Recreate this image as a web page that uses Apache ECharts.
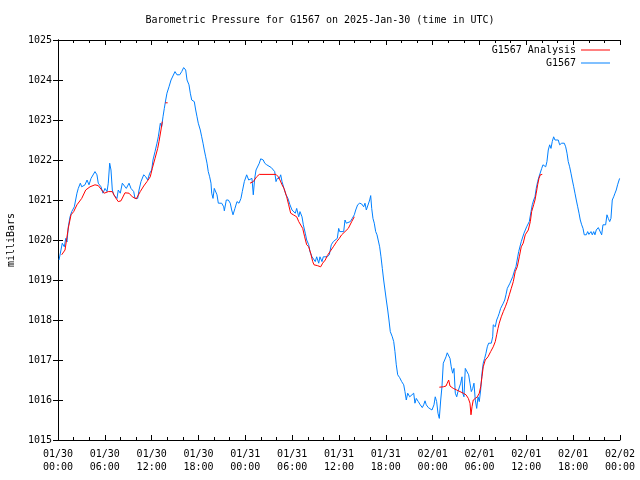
<!DOCTYPE html>
<html>
<head>
<meta charset="utf-8">
<script src="https://cdn.jsdelivr.net/npm/echarts@6/dist/echarts.min.js"></script>
<style>html,body{margin:0;padding:0;background:#fff}#c{width:640px;height:480px}</style>
</head>
<body>
<div id="c"></div>
<script>
// Hours after 2025-01-30 00:00 UTC
var blueHours = [0.13,0.38,0.55,0.81,0.99,1.15,1.32,1.54,1.76,1.92,2.09,2.27,2.43,2.60,2.86,3.04,3.27,3.46,3.72,3.97,4.23,4.48,4.74,4.99,5.16,5.51,5.76,6.02,6.28,6.44,6.62,6.79,6.96,7.14,7.39,7.56,7.72,7.98,8.24,8.49,8.75,9.10,9.35,9.70,9.86,10.21,10.38,10.63,10.98,11.24,11.49,11.75,12.00,12.17,12.43,12.68,12.85,13.11,13.28,13.45,13.62,13.80,13.96,14.22,14.48,14.73,14.99,15.24,15.59,15.85,16.10,16.36,16.53,16.78,16.95,17.13,17.46,17.64,17.81,17.97,18.23,18.41,18.58,18.74,18.92,19.09,19.25,19.43,19.60,19.69,19.86,20.02,20.20,20.37,20.54,20.97,21.23,21.31,21.56,21.82,22.07,22.25,22.42,22.67,22.93,23.19,23.44,23.61,23.87,24.17,24.43,24.60,24.85,25.02,25.20,25.37,25.62,25.79,25.97,26.30,26.48,26.74,26.99,27.33,27.58,27.76,27.93,28.09,28.35,28.53,28.70,28.95,29.21,29.46,29.72,29.98,30.14,30.40,30.58,30.84,31.00,31.26,31.43,31.68,31.86,32.12,32.28,32.54,32.71,32.96,33.14,33.40,33.56,33.82,33.99,34.24,34.50,34.76,35.01,35.27,35.52,35.78,35.96,36.09,36.34,36.60,36.77,36.94,37.19,37.45,37.70,37.96,38.14,38.39,38.65,38.91,39.16,39.33,39.50,39.75,39.93,40.06,40.19,40.35,40.52,40.70,40.87,41.03,41.21,41.38,41.55,41.72,41.89,42.06,42.24,42.40,42.57,42.83,43.01,43.17,43.34,43.52,43.77,44.03,44.29,44.45,44.62,44.80,45.06,45.31,45.57,45.73,45.90,46.16,46.41,46.67,46.85,47.02,47.18,47.44,47.66,47.91,48.17,48.33,48.51,48.68,48.85,49.03,49.19,49.36,49.54,49.71,49.87,50.05,50.22,50.38,50.56,50.73,50.90,51.08,51.24,51.41,51.59,51.76,51.85,52.01,52.18,52.36,52.61,52.78,52.95,53.13,53.29,53.46,53.64,53.81,53.97,54.15,54.32,54.48,54.66,54.83,55.00,55.17,55.34,55.51,55.69,55.76,56.02,56.20,56.37,56.53,56.71,56.88,57.05,57.23,57.39,57.56,57.74,57.90,58.07,58.25,58.51,58.67,58.84,59.02,59.19,59.35,59.53,59.70,59.86,60.04,60.21,60.38,60.60,60.76,60.94,61.11,61.27,61.45,61.62,61.79,61.97,62.13,62.30,62.48,62.64,62.81,62.99,63.16,63.32,63.50,63.67,63.84,64.09,64.27,64.53,64.86,65.04,65.21,65.37,65.55,65.72,65.89,66.07,66.23,66.40,66.58,66.75,66.91,67.09,67.26,67.42,67.68,67.86,68.02,68.28,68.45,68.63,68.79,68.96,69.22,69.47,69.65,69.82,69.98,70.16,70.33,70.50,70.68,70.84,71.01,71.19,71.36,71.52,71.69,71.95];
var bluePressure = [1019.50,1019.75,1019.92,1019.83,1020.04,1019.95,1020.33,1020.58,1020.71,1020.70,1020.83,1020.78,1021.17,1021.29,1021.42,1021.33,1021.35,1021.38,1021.50,1021.38,1021.54,1021.58,1021.71,1021.63,1021.42,1021.33,1021.17,1021.29,1021.21,1021.42,1021.92,1021.75,1021.25,1021.13,1021.17,1021.04,1021.25,1021.17,1021.42,1021.42,1021.29,1021.42,1021.29,1021.21,1021.04,1021.04,1021.25,1021.46,1021.63,1021.58,1021.50,1021.67,1021.75,1022.00,1022.21,1022.42,1022.58,1022.92,1022.83,1023.08,1023.29,1023.50,1023.67,1023.83,1024.00,1024.04,1024.21,1024.13,1024.13,1024.21,1024.31,1024.25,1024.00,1023.88,1023.67,1023.50,1023.46,1023.25,1023.08,1022.92,1022.75,1022.58,1022.42,1022.25,1022.08,1021.92,1021.71,1021.58,1021.42,1021.17,1021.04,1021.29,1021.25,1021.13,1020.92,1020.92,1020.83,1020.73,1021.00,1021.00,1020.92,1020.75,1020.63,1020.79,1020.96,1020.92,1021.04,1021.21,1021.46,1021.63,1021.50,1021.46,1021.54,1021.13,1021.54,1021.75,1021.79,1021.92,1022.03,1022.00,1021.92,1021.88,1021.83,1021.81,1021.79,1021.71,1021.46,1021.54,1021.54,1021.63,1021.46,1021.29,1021.13,1021.04,1020.88,1020.75,1020.79,1020.67,1020.79,1020.58,1020.71,1020.58,1020.38,1020.17,1020.00,1019.88,1019.71,1019.58,1019.54,1019.46,1019.58,1019.42,1019.58,1019.46,1019.58,1019.54,1019.58,1019.63,1019.88,1019.96,1019.96,1020.04,1020.29,1020.21,1020.21,1020.21,1020.50,1020.42,1020.38,1020.46,1020.54,1020.63,1020.75,1020.88,1020.92,1020.90,1020.83,1020.92,1020.75,1020.75,1021.00,1021.11,1020.79,1020.54,1020.42,1020.21,1020.13,1020.15,1019.83,1019.58,1019.29,1019.00,1018.75,1018.50,1018.25,1018.00,1017.71,1017.58,1017.46,1017.21,1016.88,1016.63,1016.56,1016.46,1016.38,1016.21,1016.00,1016.17,1016.08,1016.04,1016.17,1015.92,1016.04,1015.96,1015.88,1015.81,1015.88,1015.98,1015.88,1015.81,1015.79,1015.75,1015.88,1016.08,1015.96,1015.67,1015.54,1016.00,1016.33,1016.92,1017.00,1017.08,1017.18,1017.18,1017.04,1016.83,1016.67,1016.79,1016.17,1016.08,1016.21,1016.17,1016.42,1016.58,1016.17,1016.08,1016.79,1016.75,1016.63,1016.42,1016.21,1016.29,1016.42,1016.00,1015.79,1016.08,1015.96,1016.25,1016.67,1016.92,1017.04,1017.17,1017.33,1017.42,1017.46,1017.42,1017.58,1017.88,1017.83,1018.00,1018.08,1018.17,1018.29,1018.25,1018.42,1018.50,1018.63,1018.79,1018.83,1018.92,1019.00,1019.08,1019.25,1019.33,1019.38,1019.71,1019.75,1019.96,1020.00,1020.17,1020.21,1020.33,1020.38,1020.46,1020.71,1020.88,1021.00,1021.08,1021.29,1021.46,1021.58,1021.63,1021.79,1021.88,1021.92,1021.83,1021.96,1022.25,1022.38,1022.29,1022.46,1022.58,1022.50,1022.46,1022.50,1022.38,1022.42,1022.42,1022.33,1022.17,1021.96,1021.83,1021.67,1021.50,1021.33,1021.17,1021.00,1020.83,1020.67,1020.50,1020.38,1020.29,1020.13,1020.13,1020.21,1020.14,1020.21,1020.13,1020.21,1020.13,1020.25,1020.31,1020.29,1020.13,1020.38,1020.42,1020.38,1020.63,1020.54,1020.46,1020.54,1021.00,1021.08,1021.17,1021.25,1021.38,1021.54];

// Analysis series (null = gap)
var redHours = [0.47,0.90,1.32,1.67,2.01,2.43,3.04,3.55,4.10,4.74,5.16,5.60,5.93,6.44,6.96,7.30,7.72,8.07,8.58,9.10,9.52,10.03,10.54,10.98,11.40,11.82,12.08,12.43,12.77,12.94,13.19,13.36,
  13.55,13.75,14.05,
  19.0,24.60,25.02,25.45,25.79,27.93,28.22,28.44,28.70,28.95,29.30,29.55,29.81,30.14,30.58,30.84,31.09,31.35,31.60,31.86,32.12,32.37,32.63,32.80,33.22,33.65,33.91,34.24,34.50,34.85,35.27,35.70,36.04,36.34,36.77,37.19,37.63,37.96,
  43.0,48.85,49.36,49.71,49.87,50.05,50.22,50.64,51.08,51.50,51.92,52.27,52.57,52.78,52.91,53.04,53.20,53.46,53.72,53.97,54.15,54.32,54.48,54.74,55.09,55.43,55.76,56.02,56.20,56.37,56.53,56.79,57.05,57.31,57.56,57.82,58.07,58.33,58.58,58.84,59.10,59.35,59.60,59.86,60.25,60.51,60.68,60.94,61.11,61.27,61.45,61.62,61.79,62.04];
var redPressure = [1019.63,1019.75,1020.30,1020.63,1020.71,1020.88,1021.04,1021.25,1021.33,1021.38,1021.36,1021.25,1021.17,1021.21,1021.21,1021.08,1020.96,1020.98,1021.18,1021.17,1021.08,1021.03,1021.21,1021.35,1021.46,1021.58,1021.79,1022.04,1022.29,1022.46,1022.75,1022.96,
  null,1023.43,1023.43,
  null,1021.42,1021.46,1021.58,1021.64,1021.64,1021.58,1021.50,1021.38,1021.29,1021.08,1020.88,1020.67,1020.63,1020.58,1020.46,1020.45,1020.29,1020.08,1019.88,1019.83,1019.67,1019.46,1019.38,1019.36,1019.33,1019.42,1019.50,1019.61,1019.71,1019.83,1019.96,1020.04,1020.13,1020.21,1020.29,1020.46,1020.58,
  null,1016.32,1016.33,1016.35,1016.42,1016.50,1016.35,1016.29,1016.25,1016.21,1016.17,1016.13,1016.04,1015.92,1015.63,1015.83,1016.00,1016.04,1016.08,1016.17,1016.33,1016.58,1016.83,1017.00,1017.08,1017.21,1017.33,1017.46,1017.63,1017.79,1017.92,1018.08,1018.21,1018.33,1018.46,1018.63,1018.79,1018.96,1019.21,1019.33,1019.58,1019.83,1019.92,1020.13,1020.25,1020.46,1020.71,1020.88,1021.00,1021.17,1021.38,1021.54,1021.63,1021.64];

var titleText = 'Barometric Pressure for G1567 on 2025-Jan-30 (time in UTC)';
var seriesNames = ['G1567 Analysis', 'G1567'];
var yAxisName = 'milliBars';

function zip(a, b) { return a.map(function (h, i) { return [h, b[i]]; }); }
function pad(n) { return (n < 10 ? '0' : '') + n; }
var base = Date.UTC(2025, 0, 30);
function fmtHour(h) {
  var d = new Date(base + h * 3600000);
  return pad(d.getUTCMonth() + 1) + '/' + pad(d.getUTCDate()) + '\n' + pad(d.getUTCHours()) + ':' + pad(d.getUTCMinutes());
}

var FONT = 'DejaVu Sans Mono';
var axisCommon = {
  axisLine: { show: true, lineStyle: { color: '#000', width: 1 } },
  splitLine: { show: false }
};
var legendCommon = {
  orient: 'vertical', align: 'right', right: 30, padding: 0,
  itemWidth: 29, itemHeight: 1, icon: 'rect',
  textStyle: { fontFamily: FONT, fontSize: 10, color: '#000' }, selectedMode: false
};

var chart = echarts.init(document.getElementById('c'), null, { renderer: 'canvas' });
chart.setOption({
  animation: false,
  backgroundColor: '#fff',
  textStyle: { fontFamily: FONT },
  title: {
    text: titleText, left: 'center', top: 10,
    textStyle: { fontFamily: FONT, fontSize: 10, fontWeight: 'normal', color: '#000' }
  },
  legend: [
    Object.assign({}, legendCommon, { data: [seriesNames[0]], top: 45 }),
    Object.assign({}, legendCommon, { data: [seriesNames[1]], top: 58 })
  ],
  grid: { left: 58, right: 20, top: 40, bottom: 40, containLabel: false, outerBoundsMode: 'none' },
  xAxis: [
    Object.assign({}, axisCommon, {
      type: 'value', min: 0, max: 72, interval: 6, position: 'bottom',
      axisTick: { show: true, inside: true, length: 5, lineStyle: { color: '#000' } },
      minorTick: { show: true, splitNumber: 3, length: 3, lineStyle: { color: '#000' } },
      axisLabel: { formatter: fmtHour, fontFamily: FONT, fontSize: 10, color: '#000', margin: 8, lineHeight: 13 }
    }),
    Object.assign({}, axisCommon, {
      type: 'value', min: 0, max: 72, interval: 6, position: 'top',
      axisTick: { show: true, inside: true, length: 5, lineStyle: { color: '#000' } },
      minorTick: { show: true, splitNumber: 3, length: 3, lineStyle: { color: '#000' } },
      axisLabel: { show: false }
    })
  ],
  yAxis: [
    Object.assign({}, axisCommon, {
      type: 'value', min: 1015, max: 1025, interval: 1, position: 'left',
      name: yAxisName, nameLocation: 'middle', nameGap: 42,
      nameTextStyle: { fontFamily: FONT, fontSize: 10, color: '#000' },
      axisTick: { show: true, inside: true, length: 5, lineStyle: { color: '#000' } },
      axisLabel: { formatter: function (v) { return String(v); }, fontFamily: FONT, fontSize: 10, color: '#000', margin: 6 }
    }),
    Object.assign({}, axisCommon, {
      type: 'value', min: 1015, max: 1025, interval: 1, position: 'right',
      axisTick: { show: true, inside: true, length: 5, lineStyle: { color: '#000' } },
      axisLabel: { show: false }
    })
  ],
  series: [
    { name: seriesNames[1], type: 'line', data: zip(blueHours, bluePressure), symbol: 'none',
      lineStyle: { color: '#0080ff', width: 1 }, itemStyle: { color: '#0080ff' }, z: 2 },
    { name: seriesNames[0], type: 'line', data: zip(redHours, redPressure), symbol: 'none', connectNulls: false,
      lineStyle: { color: '#ff0000', width: 1 }, itemStyle: { color: '#ff0000' }, z: 3 }
  ]
});
</script>
</body>
</html>
